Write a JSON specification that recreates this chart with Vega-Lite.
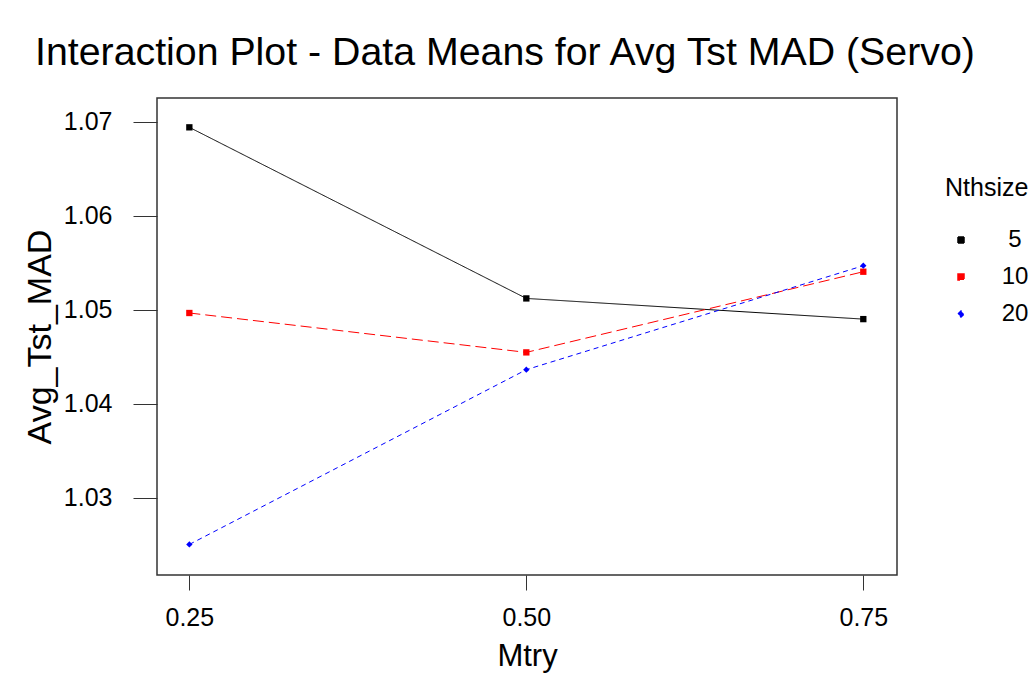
{
  "$schema": "https://vega.github.io/schema/vega-lite/v6.json",
  "width": 740,
  "height": 477,
  "autosize": {"type": "none"},
  "padding": {"left": 157, "top": 98, "right": 137, "bottom": 100},
  "background": "white",
  "title": {
    "text": "Interaction Plot - Data Means for Avg Tst MAD (Servo)",
    "anchor": "start",
    "frame": "group",
    "dx": -122,
    "offset": -6,
    "baseline": "alphabetic",
    "fontSize": 39.3,
    "font": "Liberation Sans",
    "fontWeight": "normal",
    "color": "black"
  },
  "data": {
    "values": [
      {"Mtry": 0.25, "Nthsize": "5", "Avg_Tst_MAD": 1.0694},
      {"Mtry": 0.50, "Nthsize": "5", "Avg_Tst_MAD": 1.0512},
      {"Mtry": 0.75, "Nthsize": "5", "Avg_Tst_MAD": 1.0490},
      {"Mtry": 0.25, "Nthsize": "10", "Avg_Tst_MAD": 1.04965},
      {"Mtry": 0.50, "Nthsize": "10", "Avg_Tst_MAD": 1.04546},
      {"Mtry": 0.75, "Nthsize": "10", "Avg_Tst_MAD": 1.05404},
      {"Mtry": 0.25, "Nthsize": "20", "Avg_Tst_MAD": 1.02503},
      {"Mtry": 0.50, "Nthsize": "20", "Avg_Tst_MAD": 1.04362},
      {"Mtry": 0.75, "Nthsize": "20", "Avg_Tst_MAD": 1.05468}
    ]
  },
  "encoding": {
    "x": {
      "field": "Mtry",
      "type": "quantitative",
      "scale": {"domain": [0.226, 0.775], "nice": false, "zero": false},
      "axis": {
        "values": [0.25, 0.5, 0.75],
        "format": ".2f",
        "title": "Mtry",
        "grid": false,
        "domain": false,
        "tickSize": 15,
        "tickColor": "#333333",
        "labelFontSize": 25,
        "labelPadding": 15,
        "labelColor": "black",
        "titleFontSize": 31,
        "titleFontWeight": "normal",
        "titleColor": "black",
        "titlePadding": 11
      }
    },
    "y": {
      "field": "Avg_Tst_MAD",
      "type": "quantitative",
      "scale": {"domain": [1.02178, 1.07252], "nice": false, "zero": false},
      "axis": {
        "values": [1.03, 1.04, 1.05, 1.06, 1.07],
        "format": ".2f",
        "title": "Avg_Tst_MAD",
        "grid": false,
        "domain": false,
        "tickSize": 24,
        "tickColor": "#333333",
        "labelFontSize": 25,
        "labelPadding": 21,
        "labelColor": "black",
        "titleFontSize": 34,
        "titleFontWeight": "normal",
        "titleColor": "black",
        "titlePadding": 6
      }
    },
    "color": {
      "field": "Nthsize",
      "type": "nominal",
      "sort": ["5", "10", "20"],
      "scale": {"domain": ["5", "10", "20"], "range": ["#000000", "#ff0000", "#0000ff"]},
      "title": "Nthsize",
      "legend": {
        "orient": "none",
        "legendX": 788,
        "legendY": 78,
        "titleFontSize": 25,
        "titleFontWeight": "normal",
        "titleColor": "black",
        "titlePadding": 27,
        "labelFontSize": 24,
        "labelColor": "black",
        "labelAlign": "center",
        "labelOffset": 42,
        "symbolOffset": 4,
        "symbolSize": 36,
        "rowPadding": 13
      }
    }
  },
  "layer": [
    {
      "mark": {"type": "line", "strokeWidth": 1},
      "encoding": {
        "strokeDash": {
          "field": "Nthsize",
          "type": "nominal",
          "scale": {"domain": ["5", "10", "20"], "range": [[1, 0], [11, 5], [5, 4]]},
          "legend": null
        }
      }
    },
    {
      "mark": {"type": "point", "filled": true, "opacity": 1, "size": 40},
      "encoding": {
        "shape": {
          "field": "Nthsize",
          "type": "nominal",
          "title": "Nthsize",
          "scale": {"domain": ["5", "10", "20"], "range": ["square", "square", "diamond"]},
          "legend": {
            "orient": "none",
            "legendX": 788,
            "legendY": 78,
            "titleFontSize": 25,
            "titleFontWeight": "normal",
            "titleColor": "black",
            "titlePadding": 27,
            "labelFontSize": 24,
            "labelColor": "black",
            "labelAlign": "center",
            "labelOffset": 42,
            "symbolOffset": 4,
            "symbolSize": 36,
            "rowPadding": 13
          }
        }
      }
    }
  ],
  "config": {
    "font": "Liberation Sans",
    "view": {"stroke": "#333333", "strokeWidth": 1.5}
  }
}
